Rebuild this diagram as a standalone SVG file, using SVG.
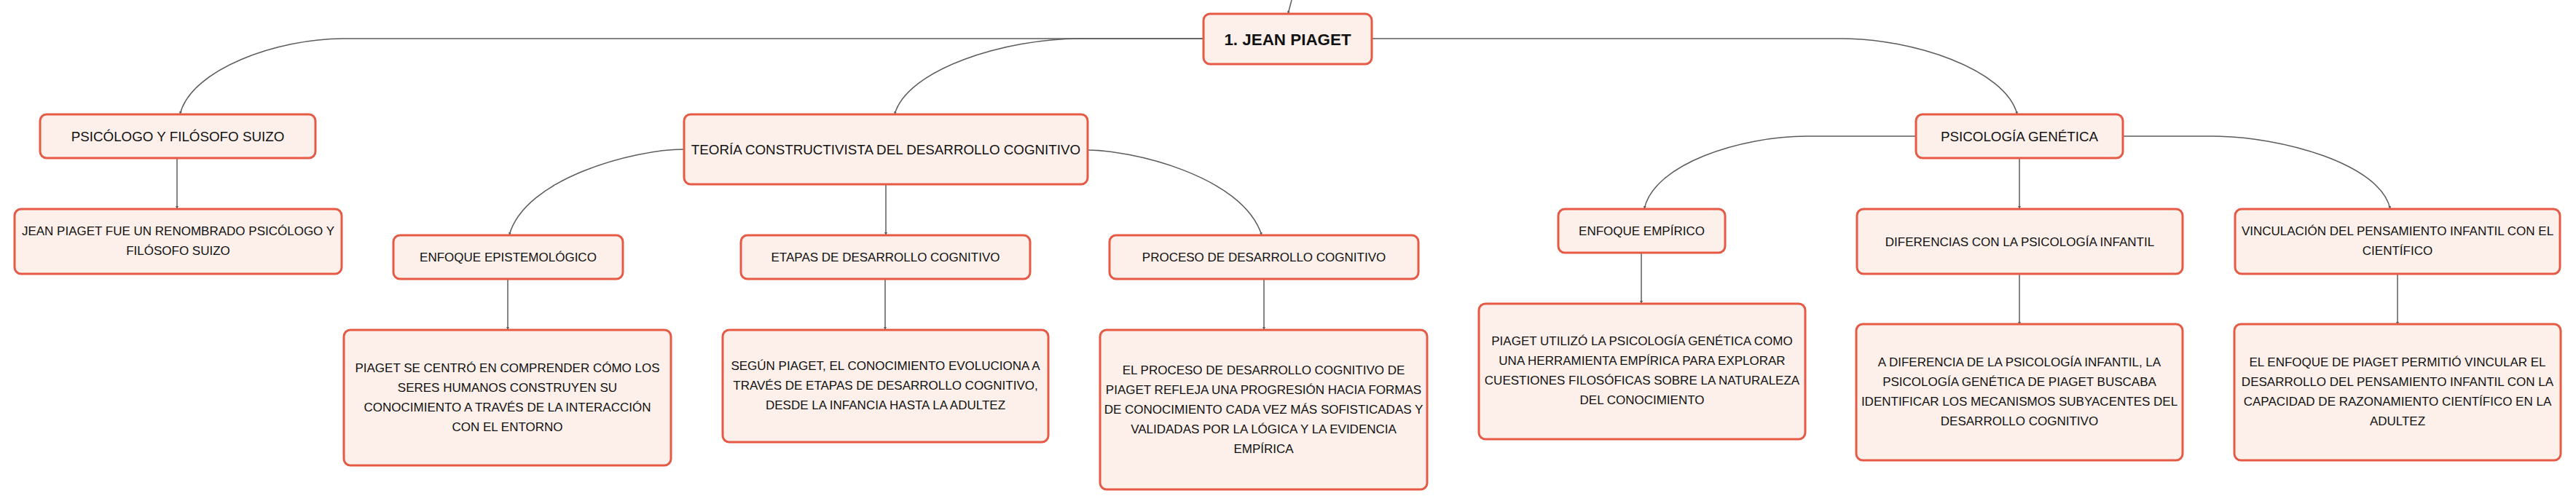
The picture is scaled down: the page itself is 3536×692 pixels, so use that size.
<svg xmlns="http://www.w3.org/2000/svg" width="3536" height="692" viewBox="0 0 3536 692">
<style>
.box{fill:#FDF0EB;stroke:#E65A45;stroke-width:3}
.t{font-family:"Liberation Sans",Arial,sans-serif;font-size:17px;fill:#111;text-anchor:middle}
.t1{font-family:"Liberation Sans",Arial,sans-serif;font-size:18.8px;fill:#111;text-anchor:middle}
.t0{font-family:"Liberation Sans",Arial,sans-serif;font-size:22.4px;font-weight:bold;fill:#111;text-anchor:middle}
.c{fill:none;stroke:#5c5c5c;stroke-width:1.5;marker-end:url(#ah)}
</style>
<defs>
<marker id="ah" viewBox="0 0 6 6" refX="6" refY="3" markerWidth="4" markerHeight="4" orient="auto" markerUnits="userSpaceOnUse">
<path d="M0,0 L6,3 L0,6 z" fill="#5c5c5c"/>
</marker>
</defs>
<rect width="3536" height="692" fill="#fff"/>
<g id="connectors">
<path class="c" d="M1773,0 L1768,19"/>
<path class="c" d="M1652,53 H471 C381,53 262,95 247,157"/>
<path class="c" d="M1652,53 H1482 C1380,53 1245,95 1228,157"/>
<path class="c" d="M1883,53 H2529 C2625,53 2753,95 2769,157"/>
<path class="c" d="M939,205 C870,205 720,245 699,323"/>
<path class="c" d="M1493,206 C1550,206 1705,240 1732,323"/>
<path class="c" d="M2630,187 H2480 C2390,187 2270,225 2257,287"/>
<path class="c" d="M2914,187 H3038 C3130,187 3268,225 3281,287"/>
<path class="c" d="M243,217 V287"/>
<path class="c" d="M1216,253 V323"/>
<path class="c" d="M697,383 V453"/>
<path class="c" d="M1215,383 V453"/>
<path class="c" d="M1735,383 V453"/>
<path class="c" d="M2772,217 V287"/>
<path class="c" d="M2253,347 V417"/>
<path class="c" d="M2772,376 V446"/>
<path class="c" d="M3291,376 V446"/>
</g>
<g id="root">
<rect class="box" x="1652" y="19" width="231" height="69" rx="9"/>
<text class="t0" x="1767.5" y="61.5">1. JEAN PIAGET</text>
</g>
<g id="n1">
<rect class="box" x="55" y="157" width="378" height="60" rx="9"/>
<text class="t1" x="244" y="193.7">PSICÓLOGO Y FILÓSOFO SUIZO</text>
</g>
<g id="n2">
<rect class="box" x="939" y="157" width="554" height="96" rx="9"/>
<text class="t1" x="1216" y="211.7">TEORÍA CONSTRUCTIVISTA DEL DESARROLLO COGNITIVO</text>
</g>
<g id="n3">
<rect class="box" x="2630" y="157" width="284" height="60" rx="9"/>
<text class="t1" x="2772" y="193.7">PSICOLOGÍA GENÉTICA</text>
</g>
<g id="n4">
<rect class="box" x="20" y="287" width="449" height="89" rx="9"/>
<text class="t" x="244.5" y="323">JEAN PIAGET FUE UN RENOMBRADO PSICÓLOGO Y</text>
<text class="t" x="244.5" y="350">FILÓSOFO SUIZO</text>
</g>
<g id="n5">
<rect class="box" x="540" y="323" width="315" height="60" rx="9"/>
<text class="t" x="697.5" y="359">ENFOQUE EPISTEMOLÓGICO</text>
</g>
<g id="n6">
<rect class="box" x="1017" y="323" width="397" height="60" rx="9"/>
<text class="t" x="1215.5" y="359">ETAPAS DE DESARROLLO COGNITIVO</text>
</g>
<g id="n7">
<rect class="box" x="1523" y="323" width="424" height="60" rx="9"/>
<text class="t" x="1735" y="359">PROCESO DE DESARROLLO COGNITIVO</text>
</g>
<g id="n8">
<rect class="box" x="472" y="453" width="449" height="186" rx="9"/>
<text class="t" x="696.5" y="511">PIAGET SE CENTRÓ EN COMPRENDER CÓMO LOS</text>
<text class="t" x="696.5" y="538">SERES HUMANOS CONSTRUYEN SU</text>
<text class="t" x="696.5" y="565">CONOCIMIENTO A TRAVÉS DE LA INTERACCIÓN</text>
<text class="t" x="696.5" y="592">CON EL ENTORNO</text>
</g>
<g id="n9">
<rect class="box" x="992" y="453" width="447" height="154" rx="9"/>
<text class="t" x="1215.5" y="508">SEGÚN PIAGET, EL CONOCIMIENTO EVOLUCIONA A</text>
<text class="t" x="1215.5" y="535">TRAVÉS DE ETAPAS DE DESARROLLO COGNITIVO,</text>
<text class="t" x="1215.5" y="562">DESDE LA INFANCIA HASTA LA ADULTEZ</text>
</g>
<g id="n10">
<rect class="box" x="1510" y="453" width="449" height="219" rx="9"/>
<text class="t" x="1734.5" y="514">EL PROCESO DE DESARROLLO COGNITIVO DE</text>
<text class="t" x="1734.5" y="541">PIAGET REFLEJA UNA PROGRESIÓN HACIA FORMAS</text>
<text class="t" x="1734.5" y="568">DE CONOCIMIENTO CADA VEZ MÁS SOFISTICADAS Y</text>
<text class="t" x="1734.5" y="595">VALIDADAS POR LA LÓGICA Y LA EVIDENCIA</text>
<text class="t" x="1734.5" y="622">EMPÍRICA</text>
</g>
<g id="n11">
<rect class="box" x="2139" y="287" width="229" height="60" rx="9"/>
<text class="t" x="2253.5" y="323">ENFOQUE EMPÍRICO</text>
</g>
<g id="n12">
<rect class="box" x="2549" y="287" width="447" height="89" rx="9"/>
<text class="t" x="2772.5" y="337.5">DIFERENCIAS CON LA PSICOLOGÍA INFANTIL</text>
</g>
<g id="n13">
<rect class="box" x="3068" y="287" width="446" height="89" rx="9"/>
<text class="t" x="3291" y="323">VINCULACIÓN DEL PENSAMIENTO INFANTIL CON EL</text>
<text class="t" x="3291" y="350">CIENTÍFICO</text>
</g>
<g id="n14">
<rect class="box" x="2030" y="417" width="448" height="186" rx="9"/>
<text class="t" x="2254" y="474">PIAGET UTILIZÓ LA PSICOLOGÍA GENÉTICA COMO</text>
<text class="t" x="2254" y="501">UNA HERRAMIENTA EMPÍRICA PARA EXPLORAR</text>
<text class="t" x="2254" y="528">CUESTIONES FILOSÓFICAS SOBRE LA NATURALEZA</text>
<text class="t" x="2254" y="555">DEL CONOCIMIENTO</text>
</g>
<g id="n15">
<rect class="box" x="2548" y="445" width="448" height="187" rx="9"/>
<text class="t" x="2772" y="503">A DIFERENCIA DE LA PSICOLOGÍA INFANTIL, LA</text>
<text class="t" x="2772" y="530">PSICOLOGÍA GENÉTICA DE PIAGET BUSCABA</text>
<text class="t" x="2772" y="557">IDENTIFICAR LOS MECANISMOS SUBYACENTES DEL</text>
<text class="t" x="2772" y="584">DESARROLLO COGNITIVO</text>
</g>
<g id="n16">
<rect class="box" x="3067" y="445" width="448" height="187" rx="9"/>
<text class="t" x="3291" y="503">EL ENFOQUE DE PIAGET PERMITIÓ VINCULAR EL</text>
<text class="t" x="3291" y="530">DESARROLLO DEL PENSAMIENTO INFANTIL CON LA</text>
<text class="t" x="3291" y="557">CAPACIDAD DE RAZONAMIENTO CIENTÍFICO EN LA</text>
<text class="t" x="3291" y="584">ADULTEZ</text>
</g>
</svg>
